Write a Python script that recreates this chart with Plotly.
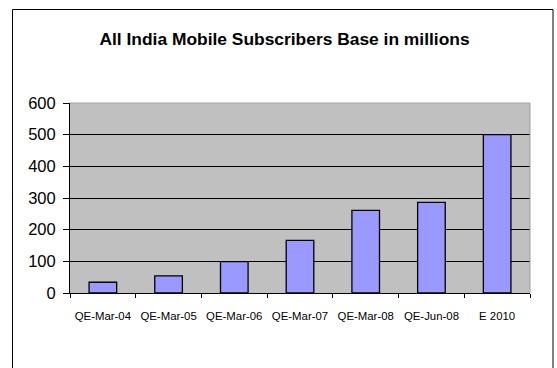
import plotly.graph_objects as go

categories = ["QE-Mar-04", "QE-Mar-05", "QE-Mar-06", "QE-Mar-07", "QE-Mar-08", "QE-Jun-08", "E 2010"]
subscribers = [34, 54, 99, 166, 261, 286, 500]
y_ticks = [0, 100, 200, 300, 400, 500, 600]

W, H = 557, 368
L, R, T, B = 70, 27, 103, 75
pw, ph = W - L - R, H - T - B

def px2x(px):
    return (px - L) / pw

def py2y(py):
    return (H - B - py) / ph

FONT = "Arial, Liberation Sans, sans-serif"

fig = go.Figure()
fig.add_trace(go.Bar(
    x=categories, y=subscribers,
    marker=dict(color="#9999FF", line=dict(color="black", width=1.3)),
    width=0.42,
))

fig.update_layout(
    width=W, height=H,
    margin=dict(l=L, r=R, t=T, b=B),
    paper_bgcolor="white",
    plot_bgcolor="#C0C0C0",
    showlegend=False,
    font=dict(family=FONT, color="black"),
    title=dict(
        text="<b>All India Mobile Subscribers Base in millions</b>",
        xref="container", x=284.5 / W, xanchor="center",
        y=1 - 39 / H, yanchor="middle",
        font=dict(size=17.4, color="black", family=FONT),
    ),
    xaxis=dict(
        type="category",
        showgrid=False,
        showline=True, linecolor="black", linewidth=1,
        ticks="outside", ticklen=4, tickcolor="black",
        tickson="boundaries",
        tickangle=0,
        ticklabelstandoff=12,
        tickfont=dict(size=11.4),
        range=[-0.5, len(categories) - 0.5],
    ),
    yaxis=dict(
        range=[0, 600],
        tickvals=y_ticks,
        showgrid=True, gridcolor="black", gridwidth=1,
        showline=True, linecolor="black", linewidth=1,
        ticks="outside", ticklen=6, tickcolor="black",
        ticklabelstandoff=4,
        tickfont=dict(size=16.5),
        zeroline=False,
    ),
    shapes=[
        dict(type="line", xref="paper", yref="paper", x0=0, x1=1, y0=1, y1=1,
             line=dict(color="#A0A0A0", width=1)),
        dict(type="line", xref="paper", yref="paper", x0=1, x1=1, y0=0, y1=1,
             line=dict(color="#A0A0A0", width=1)),
        dict(type="rect", xref="paper", yref="paper",
             x0=px2x(12.5), x1=px2x(553), y0=py2y(400), y1=py2y(9.5),
             line=dict(color="black", width=1), fillcolor="rgba(0,0,0,0)"),
    ],
)

fig.write_html("out.html")
